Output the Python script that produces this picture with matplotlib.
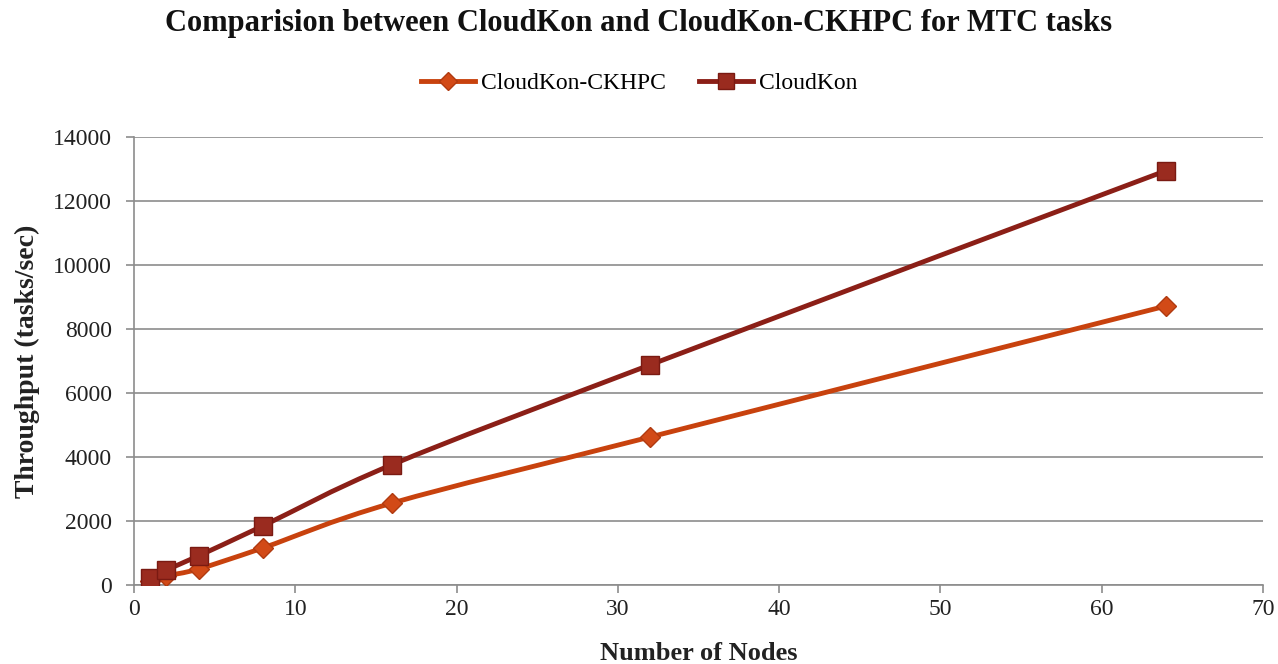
import numpy as np
import matplotlib
matplotlib.use("Agg")
import matplotlib.pyplot as plt
from matplotlib.path import Path
from matplotlib.patches import PathPatch
from matplotlib.lines import Line2D

nodes = [1, 2, 4, 8, 16, 32, 64]
ckhpc = [110, 280, 500, 1160, 2560, 4625, 8720]
cloudkon = [220, 470, 910, 1850, 3760, 6880, 12950]
series_names = ["CloudKon-CKHPC", "CloudKon"]
yticks = [0, 2000, 4000, 6000, 8000, 10000, 12000, 14000]
xticks = [0, 10, 20, 30, 40, 50, 60, 70]

plt.rcParams['font.family'] = ['Liberation Serif', 'DejaVu Serif']

fig = plt.figure(figsize=(12.78, 6.64), dpi=100)
ax = fig.add_axes([134/1278, 1-585/664, (1263-134)/1278, (585-137)/664])

def smooth_path(ax, xs, ys, color, lw):
    # Excel-like smoothed line: cubic Bezier with Catmull-Rom control points in display space
    pts = ax.transData.transform(np.column_stack([xs, ys]))
    n = len(pts)
    verts = [pts[0]]
    codes = [Path.MOVETO]
    t = 1/6
    for i in range(n-1):
        p0 = pts[i-1] if i > 0 else pts[i]
        p1 = pts[i]
        p2 = pts[i+1]
        p3 = pts[i+2] if i+2 < n else pts[i+1]
        c1 = p1 + (p2 - p0) * t
        c2 = p2 - (p3 - p1) * t
        verts += [c1, c2, p2]
        codes += [Path.CURVE4]*3
    verts = ax.transData.inverted().transform(np.array(verts))
    patch = PathPatch(Path(verts, codes), facecolor='none', edgecolor=color, lw=lw,
                      capstyle='round', joinstyle='round', zorder=3)
    ax.add_patch(patch)

ax.set_xlim(0, 70)
ax.set_ylim(0, 14000)
fig.canvas.draw()

c1 = '#C8420E'
c2 = '#8B1F17'
smooth_path(ax, nodes, ckhpc, c1, 3.5)
smooth_path(ax, nodes, cloudkon, c2, 3.5)
ax.plot(nodes, ckhpc, ls='none', marker='D', ms=10, mfc='#D24A17', mec='#B03A10', mew=1, zorder=4)
ax.plot(nodes, cloudkon, ls='none', marker='s', ms=13, mfc='#9A2B1F', mec='#7A1A12', mew=1, zorder=5)

ax.set_xticks(xticks)
ax.set_yticks(yticks)
ax.grid(axis='y', color='#8c8c8c', lw=1.2)
ax.set_axisbelow(True)
for s in ['top', 'right']:
    ax.spines[s].set_visible(False)
for s in ['left', 'bottom']:
    ax.spines[s].set_color('#8c8c8c')
    ax.spines[s].set_linewidth(1.2)
ax.tick_params(axis='both', colors='#8c8c8c', labelcolor='#222222', labelsize=17, length=6, width=1.2)
ax.tick_params(axis='y', pad=10)
ax.tick_params(axis='x', pad=4)

ax.set_xlabel("Number of Nodes", fontsize=19, fontweight='bold', color='#222222', va='center')
ax.set_ylabel("Throughput (tasks/sec)", fontsize=20, fontweight='bold', color='#222222', va='center')
ax.xaxis.set_label_coords(0.5, (585-654)/448)
ax.yaxis.set_label_coords((27-134)/1129, 0.5)
fig.text(0.5, 1-23/664, "Comparision between CloudKon and CloudKon-CKHPC for MTC tasks",
         ha='center', va='center', fontsize=22, fontweight='bold', color='#111111')

h1 = Line2D([], [], color=c1, lw=3.5, marker='D', ms=9, mfc='#D24A17', mec='#B03A10')
h2 = Line2D([], [], color=c2, lw=3.5, marker='s', ms=11, mfc='#9A2B1F', mec='#7A1A12')
fig.legend([h1, h2], series_names, loc='center', bbox_to_anchor=(0.5, 1-83/664), ncol=2,
           frameon=False, fontsize=17, handlelength=2.3, columnspacing=1.4, handletextpad=0.25)

fig.savefig("out.png", dpi=100)
